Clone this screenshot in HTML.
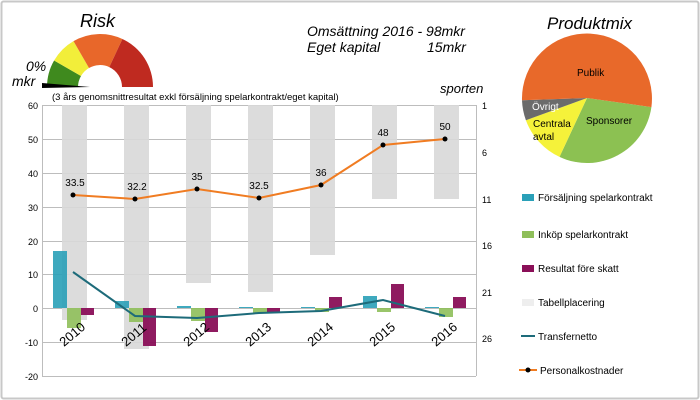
<!DOCTYPE html>
<html><head><meta charset="utf-8"><style>
html,body{margin:0;padding:0;background:#fff;}
svg{display:block;font-family:"Liberation Sans",Arial,sans-serif;}
</style></head><body>
<svg width="700" height="400" viewBox="0 0 700 400" xmlns="http://www.w3.org/2000/svg">
<rect x="1.5" y="1.5" width="697" height="397" fill="#fff" stroke="#c8c8c8" stroke-width="2" rx="2"/>
<!-- gauge -->
<g transform="translate(100,87)">
<path d="M-53,0 A53,53 0 0 1 -45.9,-26.5 L-19,-11 A22,22 0 0 0 -22,0 Z" fill="#3f8a1e"/>
<path d="M-45.9,-26.5 A53,53 0 0 1 -26.5,-45.9 L-11,-19 A22,22 0 0 0 -19,-11 Z" fill="#f2ee3a"/>
<path d="M-26.5,-45.9 A53,53 0 0 1 22.4,-48 L9.3,-19.9 A22,22 0 0 0 -11,-19 Z" fill="#e8672a"/>
<path d="M22.4,-48 A53,53 0 0 1 53,0 L22,0 A22,22 0 0 0 9.3,-19.9 Z" fill="#bf2a20"/>
<path d="M-58,-4 L-58,1 L-10,0 Z" fill="#000"/>
</g>
<text x="80" y="27" font-size="18" font-style="italic">Risk</text>
<text x="26" y="71" font-size="14" font-style="italic">0%</text>
<text x="12" y="86" font-size="14" font-style="italic">mkr</text>
<text x="307" y="36" font-size="14" font-style="italic">Omsättning 2016 - 98mkr</text>
<text x="307" y="52" font-size="14" font-style="italic">Eget kapital</text>
<text x="427" y="52" font-size="14" font-style="italic">15mkr</text>
<text x="52" y="100" font-size="9.5">(3 års genomsnittresultat exkl försäljning spelarkontrakt/eget kapital)</text>
<text x="440" y="93" font-size="13" font-style="italic">sporten</text>
<text x="547" y="29" font-size="17" font-style="italic">Produktmix</text>
<!-- pie -->
<g transform="translate(587,98)">
<path d="M0,0 L64.4,9.1 A65,65 0 0 1 -27.5,58.9 Z" fill="#8cc152"/>
<path d="M0,0 L-27.5,58.9 A65,65 0 0 1 -61.1,22.2 Z" fill="#f5f23a"/>
<path d="M0,0 L-61.1,22.2 A65,65 0 0 1 -65,2.3 Z" fill="#6b6b6b"/>
<path d="M0,0 L-65,2.3 A65,65 0 1 1 64.4,9.1 Z" fill="#e8692a"/>
<text x="-10" y="-22" font-size="10">Publik</text>
<text x="-1" y="26" font-size="10">Sponsorer</text>
<text x="-55" y="12" font-size="10" fill="#fff">Övrigt</text>
<text x="-54" y="29" font-size="10">Centrala</text>
<text x="-54" y="42" font-size="10">avtal</text>
</g>
<!-- grid -->
<g stroke="#bdbdbd" stroke-width="1">
<line x1="42" y1="105.5" x2="476" y2="105.5"/>
<line x1="42" y1="139.5" x2="476" y2="139.5"/>
<line x1="42" y1="173.5" x2="476" y2="173.5"/>
<line x1="42" y1="207.5" x2="476" y2="207.5"/>
<line x1="42" y1="241.5" x2="476" y2="241.5"/>
<line x1="42" y1="274.5" x2="476" y2="274.5"/>
<line x1="42" y1="308.5" x2="476" y2="308.5"/>
<line x1="42" y1="342.5" x2="476" y2="342.5"/>
<line x1="42" y1="376.5" x2="476" y2="376.5"/>
<line x1="42.5" y1="105" x2="42.5" y2="376"/>
<line x1="476.5" y1="105" x2="476.5" y2="376"/>
</g>
<g font-size="9" text-anchor="end">
<text x="38" y="109">60</text><text x="38" y="143">50</text><text x="38" y="177">40</text>
<text x="38" y="211">30</text><text x="38" y="245">20</text><text x="38" y="278">10</text>
<text x="38" y="312">0</text><text x="38" y="346">-10</text><text x="38" y="380">-20</text>
</g>
<g font-size="9">
<text x="482" y="109">1</text><text x="482" y="156">6</text><text x="482" y="203">11</text>
<text x="482" y="249">16</text><text x="482" y="296">21</text><text x="482" y="342">26</text>
</g>
<!-- gray placement bars -->
<g fill="#d9d9d9" opacity="0.9">
<rect x="62" y="105" width="25" height="215"/>
<rect x="124" y="105" width="25" height="244"/>
<rect x="186" y="105" width="25" height="178"/>
<rect x="248" y="105" width="25" height="187"/>
<rect x="310" y="105" width="25" height="150"/>
<rect x="372" y="105" width="25" height="94"/>
<rect x="434" y="105" width="25" height="94"/>
</g>
<!-- bars -->
<g fill="#2aa0b8" opacity="0.9">
<rect x="53" y="251" width="14" height="57"/>
<rect x="115" y="301" width="14" height="7"/>
<rect x="177" y="306" width="14" height="2"/>
<rect x="239" y="307" width="14" height="1"/>
<rect x="301" y="307" width="14" height="1"/>
<rect x="363" y="296" width="14" height="12"/>
<rect x="425" y="307" width="14" height="1"/>
</g>
<g fill="#8fbf5a" opacity="0.9">
<rect x="67" y="308" width="14" height="20"/>
<rect x="129" y="308" width="14" height="14"/>
<rect x="191" y="308" width="14" height="13"/>
<rect x="253" y="308" width="14" height="5"/>
<rect x="315" y="308" width="14" height="4"/>
<rect x="377" y="308" width="14" height="4"/>
<rect x="439" y="308" width="14" height="9"/>
</g>
<g fill="#8a0f58" opacity="0.95">
<rect x="81" y="308" width="13" height="7"/>
<rect x="143" y="308" width="13" height="38"/>
<rect x="205" y="308" width="13" height="24"/>
<rect x="267" y="308" width="13" height="5"/>
<rect x="329" y="297" width="13" height="11"/>
<rect x="391" y="284" width="13" height="24"/>
<rect x="453" y="297" width="13" height="11"/>
</g>
<polyline points="73,272 135,316 197,318 259,313 321,311 383,300 445,316" fill="none" stroke="#1d6b7a" stroke-width="2"/>
<polyline points="73,195 135,199 197,189 259,198 321,185 383,145 445,139" fill="none" stroke="#f07c22" stroke-width="2"/>
<g fill="#000">
<circle cx="73" cy="195" r="2.5"/><circle cx="135" cy="199" r="2.5"/><circle cx="197" cy="189" r="2.5"/>
<circle cx="259" cy="198" r="2.5"/><circle cx="321" cy="185" r="2.5"/><circle cx="383" cy="145" r="2.5"/><circle cx="445" cy="139" r="2.5"/>
</g>
<g font-size="10" text-anchor="middle">
<text x="75" y="186">33.5</text><text x="137" y="190">32.2</text><text x="197" y="180">35</text>
<text x="259" y="189">32.5</text><text x="321" y="176">36</text><text x="383" y="136">48</text><text x="445" y="130">50</text>
</g>
<g font-size="13">
<text transform="translate(64,347) rotate(-40)">2010</text>
<text transform="translate(126,347) rotate(-40)">2011</text>
<text transform="translate(188,347) rotate(-40)">2012</text>
<text transform="translate(250,347) rotate(-40)">2013</text>
<text transform="translate(312,347) rotate(-40)">2014</text>
<text transform="translate(374,347) rotate(-40)">2015</text>
<text transform="translate(436,347) rotate(-40)">2016</text>
</g>
<!-- legend -->
<g font-size="10">
<rect x="522" y="194" width="12" height="7" fill="#2aa0b8"/><text x="538" y="201">Försäljning spelarkontrakt</text>
<rect x="522" y="231" width="12" height="7" fill="#8fbf5a"/><text x="538" y="238">Inköp spelarkontrakt</text>
<rect x="522" y="265" width="12" height="7" fill="#8a0f58"/><text x="538" y="272">Resultat före skatt</text>
<rect x="522" y="299" width="12" height="7" fill="#eeeeee"/><text x="538" y="306">Tabellplacering</text>
<line x1="521" y1="336" x2="535" y2="336" stroke="#1d6b7a" stroke-width="2"/><text x="538" y="340">Transfernetto</text>
<line x1="519" y1="370" x2="537" y2="370" stroke="#f07c22" stroke-width="2"/><circle cx="528" cy="370" r="2.5"/><text x="540" y="374">Personalkostnader</text>
</g>
</svg>
</body></html>
